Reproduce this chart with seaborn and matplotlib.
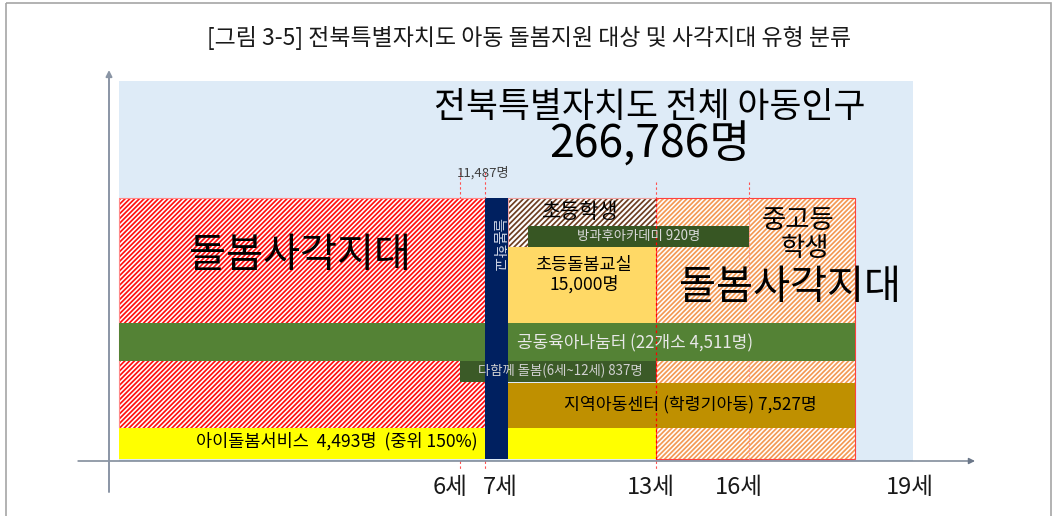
import numpy as np
import matplotlib
matplotlib.use('Agg')
import matplotlib.pyplot as plt
import matplotlib.transforms as mtransforms
from matplotlib.patches import Rectangle
import seaborn as sns

# ---------------- data ----------------
TITLE = '[그림 3-5] 전북특별자치도 아동 돌봄지원 대상 및 사각지대 유형 분류'
TOTAL_LABEL = '전북특별자치도 전체 아동인구'
TOTAL_CHILDREN = 266786
NEULBOM_COUNT = 11487

TICK_AGES = [6, 7, 13, 16, 19]
TICK_LABELS = ['6세', '7세', '13세', '16세', '19세']

BAND_NAMES = ['전체 아동', '미취학 사각지대', '중고등 사각지대', '초등학생', '초등돌봄교실',
              '방과후아카데미', '공동육아나눔터', '다함께 돌봄', '지역아동센터', '아이돌봄서비스', '늘봄학교']
BAND_START = [0, 0, 13, 7.8, 7.8, 8.5, 0, 6, 7.8, 0, 7]
BAND_END = [19, 7, 18, 13, 13, 16, 18, 13, 18, 13, 7.8]

SERVICE_NAMES = ['방과후아카데미', '초등돌봄교실', '공동육아나눔터', '다함께 돌봄', '지역아동센터', '아이돌봄서비스']
SERVICE_COUNTS = [920, 15000, 4511, 837, 7527, 4493]
NANUM_SITES = 22
DAHAM_AGES = (6, 12)
IDOLBOM_INCOME = 150

# ---------------- layout / style ----------------
W, H = 1054, 516
AGE_KNOTS = [-4, 0, 6, 7, 13, 16, 18, 19, 26]
POS_KNOTS = [0, 119, 460, 485, 656, 749, 855, 913, 1054]
ROW_TOP = [81, 198, 198, 198, 247, 226, 323, 361, 383, 428, 198]
ROW_BOTTOM = [461, 428, 459, 247, 323, 247, 361, 382, 428, 459, 459]
FACE = ['#DEEBF7', 'white', 'white', 'white', '#FFD966', '#375623', '#548235',
        '#3B5A27', '#BF9000', '#FFFF00', '#002060']
HATCH = [None, '///////', '///////', '//////', None, None, None, None, None, None, None]
HATCH_COLOR = [None, '#FF1010', '#F39A55', '#6E3F22', None, None, None, None, None, None, None]
OUTLINE = [None, '#FF8A8A', '#FF4040', '#F0A0A0', None, None, None, None, None, None, None]

sns.set_theme(style='white')
plt.rcParams['font.family'] = ['Noto Sans CJK KR', 'DejaVu Sans']
plt.rcParams['hatch.linewidth'] = 1.25

fig = plt.figure(figsize=(W / 100, H / 100), dpi=100, facecolor='white')
ax = fig.add_axes([0, (H - 461) / H, 1, 461 / H])
ax.set_facecolor('none')
fwd = lambda a: np.interp(a, AGE_KNOTS, POS_KNOTS)
inv = lambda p: np.interp(p, POS_KNOTS, AGE_KNOTS)
ax.set_xscale('function', functions=(fwd, inv))
ax.set_xlim(AGE_KNOTS[0], AGE_KNOTS[-1])
ax.set_ylim(461, 0)
for s in ax.spines.values():
    s.set_visible(False)
ax.set_yticks([])

PIX = mtransforms.Affine2D().scale(1 / W, -1 / H).translate(0, 1) + fig.transFigure

# bands
for i, name in enumerate(BAND_NAMES):
    top, bot = ROW_TOP[i], ROW_BOTTOM[i]
    kw = dict(left=BAND_START[i], height=bot - top, align='center', zorder=2 + i * 0.1)
    if HATCH[i]:
        ax.barh((top + bot) / 2, BAND_END[i] - BAND_START[i], color=FACE[i],
                hatch=HATCH[i], edgecolor=HATCH_COLOR[i], linewidth=0, **kw)
        ax.barh((top + bot) / 2, BAND_END[i] - BAND_START[i], fill=False,
                edgecolor=OUTLINE[i], linewidth=0.8, **kw)
    else:
        ax.barh((top + bot) / 2, BAND_END[i] - BAND_START[i], color=FACE[i],
                linewidth=0, **kw)

# dashed guide lines
dash = (0, (2.2, 2.2))
ax.vlines([6, 7], 172, 198, colors='#FF5050', linestyles=dash, lw=0.8, zorder=5)
ax.vlines([13, 16], 182, 198, colors='#FF5050', linestyles=dash, lw=0.8, zorder=5)
ax.vlines([13], 198, 459, colors='#FF0000', linestyles=dash, lw=0.9, zorder=5)
ax.vlines([16], 198, 459, colors='#FF9A9A', linestyles=dash, lw=0.8, zorder=2.25)
ax.vlines([6, 7, 13], 461, 470, colors='#FF5050', linestyles=dash, lw=0.8, zorder=5, clip_on=False)

# ticks
ax.set_xticks(TICK_AGES, TICK_LABELS)
ax.tick_params(axis='x', length=0, pad=11, labelsize=17, labelcolor='#1A1A1A')
tick_dx = [7, -2, -5, -10, -3]
tick_ha = ['right', 'left', 'center', 'center', 'center']
for lab, dx, ha in zip(ax.get_xticklabels(), tick_dx, tick_ha):
    lab.set_ha(ha)
    lab.set_transform(lab.get_transform() + mtransforms.ScaledTranslation(dx / 100, 0, fig.dpi_scale_trans))

# axis arrows
ax.annotate('', xy=(975, 461), xytext=(78, 461), xycoords=PIX, textcoords=PIX,
            arrowprops=dict(arrowstyle='-|>', color='#6B7789', lw=1.0, mutation_scale=9,
                            shrinkA=0, shrinkB=0), zorder=6)
ax.annotate('', xy=(109, 70), xytext=(109, 492), xycoords=PIX, textcoords=PIX,
            arrowprops=dict(arrowstyle='-|>', color='#8A95A5', lw=1.4, mutation_scale=9,
                            shrinkA=0, shrinkB=0), zorder=6)

# texts
def t(x, y, s, size, color='black', ha='center', **kw):
    fig.text(x, y, s, transform=PIX, fontsize=size, color=color, ha=ha, va='center', zorder=10, **kw)

cnt = dict(zip(SERVICE_NAMES, SERVICE_COUNTS))
t(529, 38, TITLE, 16.5, '#1A1A1A')
t(650, 107, TOTAL_LABEL, 25)
t(650, 145, f'{TOTAL_CHILDREN:,}명', 32)
t(457, 173, f'{NEULBOM_COUNT:,}명', 9.5, '#404040', ha='left')
t(300, 255, '돌봄사각지대', 29)
t(790, 287, '돌봄사각지대', 29)
t(798, 221, '중고등', 19)
t(805, 248, '학생', 19)
t(580, 212, '초등학생', 15)
t(639, 236, f'방과후아카데미 {cnt["방과후아카데미"]:,}명', 9.6, '#DADADA')
t(584, 265, '초등돌봄교실', 12.6)
t(584, 284, f'{cnt["초등돌봄교실"]:,}명', 12.6)
t(497, 245, '늘봄학교', 10.5, '#C9D1E3', rotation=-90)
t(517, 343, f'공동육아나눔터 ({NANUM_SITES}개소 {cnt["공동육아나눔터"]:,}명)', 12.2, '#E8E8E8', ha='left')
t(478, 371, f'다함께 돌봄({DAHAM_AGES[0]}세~{DAHAM_AGES[1]}세) {cnt["다함께 돌봄"]:,}명', 9.6, '#D0D0D0', ha='left')
t(690, 405, f'지역아동센터 (학령기아동) {cnt["지역아동센터"]:,}명', 12.4)
t(478, 441, f'아이돌봄서비스  {cnt["아이돌봄서비스"]:,}명  (중위 {IDOLBOM_INCOME}%)', 12.6, ha='right')

# outer frame
fig.add_artist(Rectangle((6, 3), 1045, 530, transform=PIX, fill=False,
                         edgecolor='#A6A6A6', linewidth=1.2))

fig.savefig('out.png', dpi=100)
